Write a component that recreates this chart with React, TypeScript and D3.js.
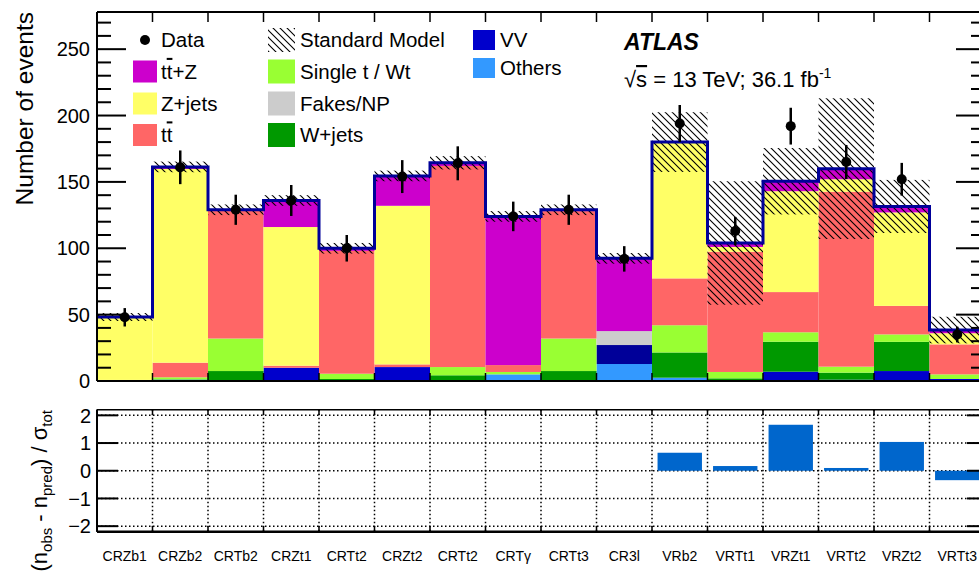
import React from "react";
import * as d3 from "d3";

// ---------- data ----------
const bins = ["CRZb1","CRZb2","CRTb2","CRZt1","CRTt2","CRZt2","CRTt2","CRTγ","CRTt3","CR3l","VRb2","VRTt1","VRZt1","VRTt2","VRZt2","VRTt3"];

const others  = [0.8, 1, 0, 0, 0, 0, 0, 5, 0, 12.8, 2.5, 0, 0, 0, 0, 0.5];
const vv      = [0, 0, 0, 10, 0, 10.5, 0, 0, 0, 14.3, 0, 0, 7, 1, 7.5, 1];
const wjets   = [0, 0.3, 7.5, 0, 1.5, 0, 4.3, 0, 7.5, 0, 19, 2, 22.6, 5.3, 22, 0];
const singleT = [0, 1.5, 24.5, 0, 4, 0, 6.2, 1.8, 24.5, 0, 20.5, 4.8, 7.1, 4.5, 5.6, 3.5];
const fakes   = [0, 0, 0, 0, 0, 0, 0, 0, 0, 10.5, 0, 0, 0, 0, 0, 0];
const ttbar   = [0, 11, 96.5, 1.5, 92.5, 2, 151.5, 5.2, 96, 0, 35.3, 90.6, 30.3, 131.8, 21.5, 22.6];
const zjets   = [47.2, 146, 0, 104.5, 0, 119.5, 0, 0, 0, 0, 102.2, 3.6, 76, 9.4, 70.4, 8.4];
const ttz     = [0.2, 1.5, 0.5, 20, 2, 22.5, 2.4, 112, 1, 54.8, 0.5, 3, 7.5, 8, 4.5, 2.4];

const dataObs = [48, 161, 129, 136, 100, 154, 164, 124, 129, 92, 194, 113, 192, 165, 152, 35];
const smUnc   = [3, 4, 4, 4, 4, 4, 5, 4, 4, 4, 22.5, 46.5, 25, 53, 20, 10];
const pulls: (number | null)[] = [null, null, null, null, null, null, null, null, null, null, 0.65, 0.17, 1.66, 0.1, 1.04, -0.34];

const mainTicks = d3.range(0, 271, 10);
const ratioTicks = [-2, -1, 0, 1, 2];

const keys = ["others", "vv", "wjets", "singleT", "fakes", "ttbar", "zjets", "ttz"];
const series: Record<string, number[]> = { others, vv, wjets, singleT, fakes, ttbar, zjets, ttz };
const colors: Record<string, string> = {
  others: "#3399FF",
  vv: "#0000CC",
  wjets: "#009900",
  singleT: "#99FF33",
  fakes: "#CCCCCC",
  ttbar: "#FF6666",
  zjets: "#FFFF66",
  ttz: "#CC00CC",
};

const FONT = "'Liberation Sans', Arial, Helvetica, sans-serif";

export default function App() {
  const X0 = 97, X1 = 985;
  const x = d3.scaleBand<string>().domain(bins.map((_, i) => String(i))).range([X0, X1]).padding(0);
  const bw = x.bandwidth();
  const y = d3.scaleLinear().domain([0, 278]).range([381, 12]);
  const yr = d3.scaleLinear().domain([-2.2, 2.2]).range([531.7, 409.8]);

  const table = bins.map((_, i) => {
    const o: Record<string, number> = {};
    keys.forEach((k) => (o[k] = series[k][i]));
    return o;
  });
  const stacked = d3.stack<Record<string, number>>().keys(keys)(table);
  const totals = table.map((r) => keys.reduce((s, k) => s + r[k], 0));

  const edges = bins.map((_, i) => x(String(i)) as number).concat([X1]);
  const stepPts: [number, number][] = totals.map((t, i) => [edges[i], t] as [number, number]);
  stepPts.push([X1, totals[totals.length - 1]]);
  const stepLine = d3.line<[number, number]>().x((d) => d[0]).y((d) => y(d[1])).curve(d3.curveStepAfter);

  const legendRowsY = [40, 71.5, 103.5, 135];
  const col1 = [
    { label: "ttZ", key: "ttz" },
    { label: "Z+jets", key: "zjets" },
    { label: "tt", key: "ttbar" },
  ];
  const col2 = [
    { label: "Single t / Wt", key: "singleT" },
    { label: "Fakes/NP", key: "fakes" },
    { label: "W+jets", key: "wjets" },
  ];
  const col3 = [
    { label: "VV", key: "vv", yy: 40 },
    { label: "Others", key: "others", yy: 68 },
  ];

  const renderLabel = (label: string) => {
    if (label === "ttZ")
      return (
        <>
          <tspan>t</tspan>
          <tspan style={{ textDecoration: "overline" }}>t</tspan>
          <tspan>+Z</tspan>
        </>
      );
    if (label === "tt")
      return (
        <>
          <tspan>t</tspan>
          <tspan style={{ textDecoration: "overline" }}>t</tspan>
        </>
      );
    return label;
  };

  return (
    <svg
      width={979}
      height={580}
      style={{ position: "absolute", left: 0, top: 0, background: "#fff" }}
      fontFamily={FONT}
    >
      <defs>
        <pattern id="hatch" patternUnits="userSpaceOnUse" width={7} height={7}>
          <path d="M-1,6 L1,8 M0,0 L7,7 M6,-1 L8,1" stroke="#000" strokeWidth={1.1} />
        </pattern>
        <clipPath id="mainClip">
          <rect x={X0} y={12} width={X1 - X0} height={369} />
        </clipPath>
        <clipPath id="ratioClip">
          <rect x={X0} y={409.8} width={X1 - X0} height={122} />
        </clipPath>
      </defs>
      <rect x={0} y={0} width={979} height={580} fill="#fff" />

      {/* ---------- main panel ---------- */}
      <g clipPath="url(#mainClip)">
        {stacked.map((s) => (
          <g key={s.key}>
            {s.map((d, i) =>
              d[1] - d[0] > 0 ? (
                <rect
                  key={i}
                  x={edges[i]}
                  width={bw}
                  y={y(d[1])}
                  height={y(d[0]) - y(d[1])}
                  fill={s.key === "vv" && bins[i] === "CR3l" ? "#000099" : colors[s.key]}
                />
              ) : null
            )}
          </g>
        ))}
        {totals.map((t, i) => (
          <rect
            key={"h" + i}
            x={edges[i]}
            width={bw}
            y={y(t + smUnc[i])}
            height={y(t - smUnc[i]) - y(t + smUnc[i])}
            fill="url(#hatch)"
          />
        ))}
        <path d={stepLine(stepPts) || ""} fill="none" stroke="#000099" strokeWidth={3} />
        {dataObs.map((d, i) => {
          const cx = edges[i] + bw / 2;
          const e = Math.sqrt(d);
          return (
            <g key={"d" + i}>
              <line x1={cx} x2={cx} y1={y(d - e)} y2={y(d + e)} stroke="#000" strokeWidth={2.5} />
              <circle cx={cx} cy={y(d)} r={5} fill="#000" />
            </g>
          );
        })}
      </g>

      {/* main axes frame */}
      <line x1={X0} x2={X0} y1={12} y2={381} stroke="#000" strokeWidth={2} />
      <line x1={X0} x2={X1} y1={12} y2={12} stroke="#000" strokeWidth={2} />
      <line x1={X0} x2={X1} y1={381} y2={381} stroke="#000" strokeWidth={2} />
      <line x1={X1} x2={X1} y1={12} y2={381} stroke="#000" strokeWidth={2} />
      {mainTicks.map((t) => {
        const major = t % 50 === 0;
        const len = major ? 29 : 14;
        return (
          <g key={"mt" + t}>
            <line x1={X0} x2={X0 + len} y1={y(t)} y2={y(t)} stroke="#000" strokeWidth={2} />
            <line x1={X1 - len} x2={X1} y1={y(t)} y2={y(t)} stroke="#000" strokeWidth={2} />
            {major ? (
              <text x={90} y={y(t)} dy="0.36em" textAnchor="end" fontSize={20}>
                {t}
              </text>
            ) : null}
          </g>
        );
      })}
      {edges.map((ex, i) => (
        <g key={"et" + i}>
          <line x1={ex} x2={ex} y1={12} y2={22} stroke="#000" strokeWidth={1.5} />
          <line x1={ex} x2={ex} y1={373} y2={381} stroke="#000" strokeWidth={1.5} />
        </g>
      ))}
      <text
        transform={`translate(33,${12}) rotate(-90)`}
        textAnchor="end"
        fontSize={24.5}
      >
        Number of events
      </text>

      {/* legend */}
      <circle cx={145} cy={legendRowsY[0]} r={5} fill="#000" />
      <text x={161} y={legendRowsY[0]} dy="0.36em" fontSize={20.5}>Data</text>
      {col1.map((c, i) => (
        <g key={c.key}>
          <rect x={133} y={legendRowsY[i + 1] - 11} width={24} height={22} fill={colors[c.key]} />
          <text x={161} y={legendRowsY[i + 1]} dy="0.36em" fontSize={20.5}>
            {renderLabel(c.label)}
          </text>
        </g>
      ))}
      <rect x={268} y={legendRowsY[0] - 12} width={27} height={24} fill="url(#hatch)" />
      <text x={300} y={legendRowsY[0]} dy="0.36em" fontSize={20.5}>Standard Model</text>
      {col2.map((c, i) => (
        <g key={c.key}>
          <rect x={268} y={legendRowsY[i + 1] - 12} width={27} height={24} fill={colors[c.key]} />
          <text x={300} y={legendRowsY[i + 1]} dy="0.36em" fontSize={20.5}>{c.label}</text>
        </g>
      ))}
      {col3.map((c) => (
        <g key={c.key}>
          <rect x={473} y={c.yy - 10} width={22} height={20} fill={colors[c.key]} />
          <text x={500} y={c.yy} dy="0.36em" fontSize={20.5}>{c.label}</text>
        </g>
      ))}

      <text x={624} y={50} fontSize={23} fontWeight="bold" fontStyle="italic">ATLAS</text>
      <text x={624} y={87} fontSize={22}>
        <tspan>√</tspan>
        <tspan style={{ textDecoration: "overline" }}>s</tspan>
        <tspan> = 13 TeV; 36.1 fb</tspan>
        <tspan dy={-9} fontSize={14}>-1</tspan>
      </text>

      {/* ---------- ratio panel ---------- */}
      {ratioTicks.map((t) => (
        <line
          key={"rg" + t}
          x1={X0}
          x2={X1}
          y1={yr(t)}
          y2={yr(t)}
          stroke="#000"
          strokeWidth={1.5}
          strokeDasharray="1.5,2.5"
        />
      ))}
      {edges.map((ex, i) => (
        <line
          key={"rv" + i}
          x1={ex}
          x2={ex}
          y1={409.8}
          y2={531.7}
          stroke="#000"
          strokeWidth={1.5}
          strokeDasharray="1.5,2.5"
        />
      ))}
      <g clipPath="url(#ratioClip)">
        {pulls.map((p, i) =>
          p === null ? null : (
            <rect
              key={"p" + i}
              x={edges[i] + bw * 0.1}
              width={bw * 0.8}
              y={Math.min(yr(p), yr(0))}
              height={Math.abs(yr(p) - yr(0))}
              fill="#0066CC"
            />
          )
        )}
      </g>
      <line x1={X0} x2={X0} y1={409.8} y2={531.7} stroke="#000" strokeWidth={2} />
      <line x1={X0} x2={X1} y1={409.8} y2={409.8} stroke="#000" strokeWidth={1.5} />
      <line x1={X0} x2={X1} y1={531.7} y2={531.7} stroke="#000" strokeWidth={2.5} />
      {ratioTicks.map((t) => (
        <g key={"rt" + t}>
          <line x1={X0} x2={X0 + 21} y1={yr(t)} y2={yr(t)} stroke="#000" strokeWidth={2} />
          <line x1={X1 - 18} x2={X1} y1={yr(t)} y2={yr(t)} stroke="#000" strokeWidth={2} />
          <text x={91} y={yr(t)} dy="0.36em" textAnchor="end" fontSize={20}>
            {t < 0 ? "−" + Math.abs(t) : String(t)}
          </text>
        </g>
      ))}
      {edges.map((ex, i) => (
        <g key={"rtk" + i}>
          <line x1={ex} x2={ex} y1={409.8} y2={415} stroke="#000" strokeWidth={1.5} />
          <line x1={ex} x2={ex} y1={526} y2={531.7} stroke="#000" strokeWidth={1.5} />
        </g>
      ))}
      {bins.map((b, i) => (
        <text key={"bl" + i} x={edges[i] + bw / 2} y={561} textAnchor="middle" fontSize={14}>
          {b}
        </text>
      ))}
      <text transform={`translate(47,410) rotate(-90)`} textAnchor="end" fontSize={22}>
        <tspan>(n</tspan>
        <tspan fontSize={15} dy={5}>obs</tspan>
        <tspan dy={-5}> - n</tspan>
        <tspan fontSize={15} dy={5}>pred</tspan>
        <tspan dy={-5}>) / σ</tspan>
        <tspan fontSize={15} dy={5}>tot</tspan>
      </text>
    </svg>
  );
}
